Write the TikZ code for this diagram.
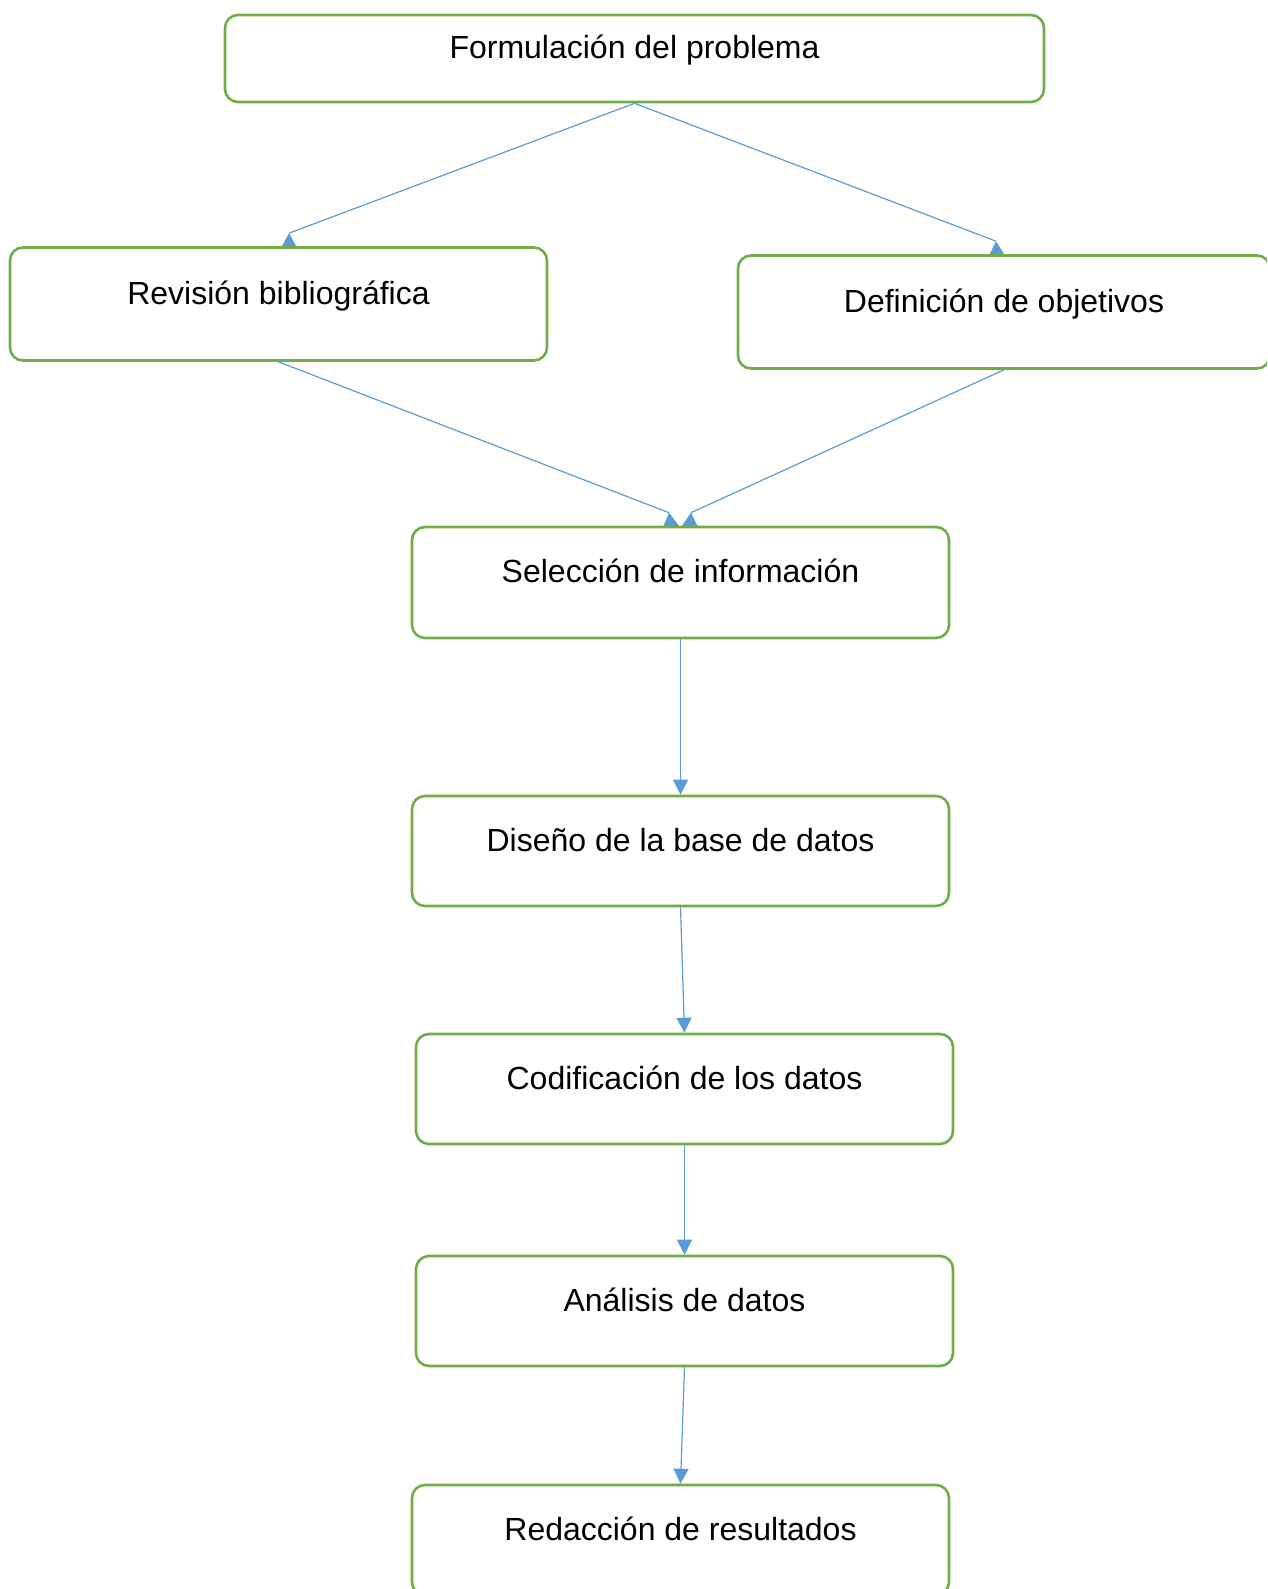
\documentclass[tikz,border=0pt]{standalone}
\usepackage{fontspec}
\setmainfont{Liberation Sans}
\usetikzlibrary{arrows.meta,calc,backgrounds}
\definecolor{boxgreen}{HTML}{70AD47}
\definecolor{arrblue}{HTML}{5B9BD5}
\begin{document}
\begin{tikzpicture}[x=1pt,y=-1pt,
  stepbox/.style={draw=boxgreen, line width=2.6pt, rounded corners=13pt, fill=white,
    inner sep=0pt, minimum width=537pt, minimum height=110pt,
    text height=24pt, text depth=24pt,
    font=\fontsize{32}{36}\selectfont},
  conn/.style={draw=arrblue, line width=1.2pt},
  connarr/.style={conn, -{Triangle[length=15pt,width=15pt]}},
  tipfill/.style={fill=arrblue}]
\useasboundingbox (0,0) rectangle (1267,1589);
\clip (0,0) rectangle (1267,1589);
\node[stepbox, minimum width=819pt, minimum height=87pt] (b1) at (634.5,58.5) {Formulación del problema};
\node[stepbox, minimum height=113pt] (b2) at (278.5,304) {Revisión bibliográfica};
\node[stepbox, minimum width=532pt, minimum height=113pt] (b3) at (1004,312) {Definición de objetivos};
\node[stepbox, minimum height=111pt] (b4) at (680.5,582.5) {Selección de información};
\node[stepbox] (b5) at (680.5,851) {Diseño de la base de datos};
\node[stepbox] (b6) at (684.5,1089) {Codificación de los datos};
\node[stepbox] (b7) at (684.5,1311) {Análisis de datos};
\node[stepbox] (b8) at (680.5,1540) {Redacción de resultados};
\begin{scope}[on background layer]
  \coordinate (t12) at ($(b2.north)+(10.5,-13)$);
  \coordinate (t13) at ($(b3.north)+(-8,-13)$);
  \coordinate (t24) at ($(b4.north)+(-11.5,-13)$);
  \coordinate (t34) at ($(b4.north)+(10.5,-13)$);
  \draw[conn] (b1.south) -- (t12);
  \fill[tipfill] ($(b2.north)+(2.5,1.5)$) -- (t12) -- ($(b2.north)+(18.5,1.5)$) -- cycle;
  \draw[conn] (b1.south) -- (t13);
  \fill[tipfill] ($(b3.north)+(-15,1.5)$) -- (t13) -- ($(b3.north)+(1,1.5)$) -- cycle;
  \draw[conn] (b2.south) -- (t24);
  \fill[tipfill] ($(b4.north)+(-17.5,1.5)$) -- (t24) -- ($(b4.north)+(-0.5,1.5)$) -- cycle;
  \draw[conn] (b3.south) -- (t34);
  \fill[tipfill] ($(b4.north)+(0.5,1.5)$) -- (t34) -- ($(b4.north)+(17.5,1.5)$) -- cycle;
\end{scope}
\draw[connarr] (b4.south) -- (b5.north);
\draw[connarr] (b5.south) -- (b6.north);
\draw[connarr] (b6.south) -- (b7.north);
\draw[connarr] (b7.south) -- (b8.north);
\end{tikzpicture}
\end{document}
